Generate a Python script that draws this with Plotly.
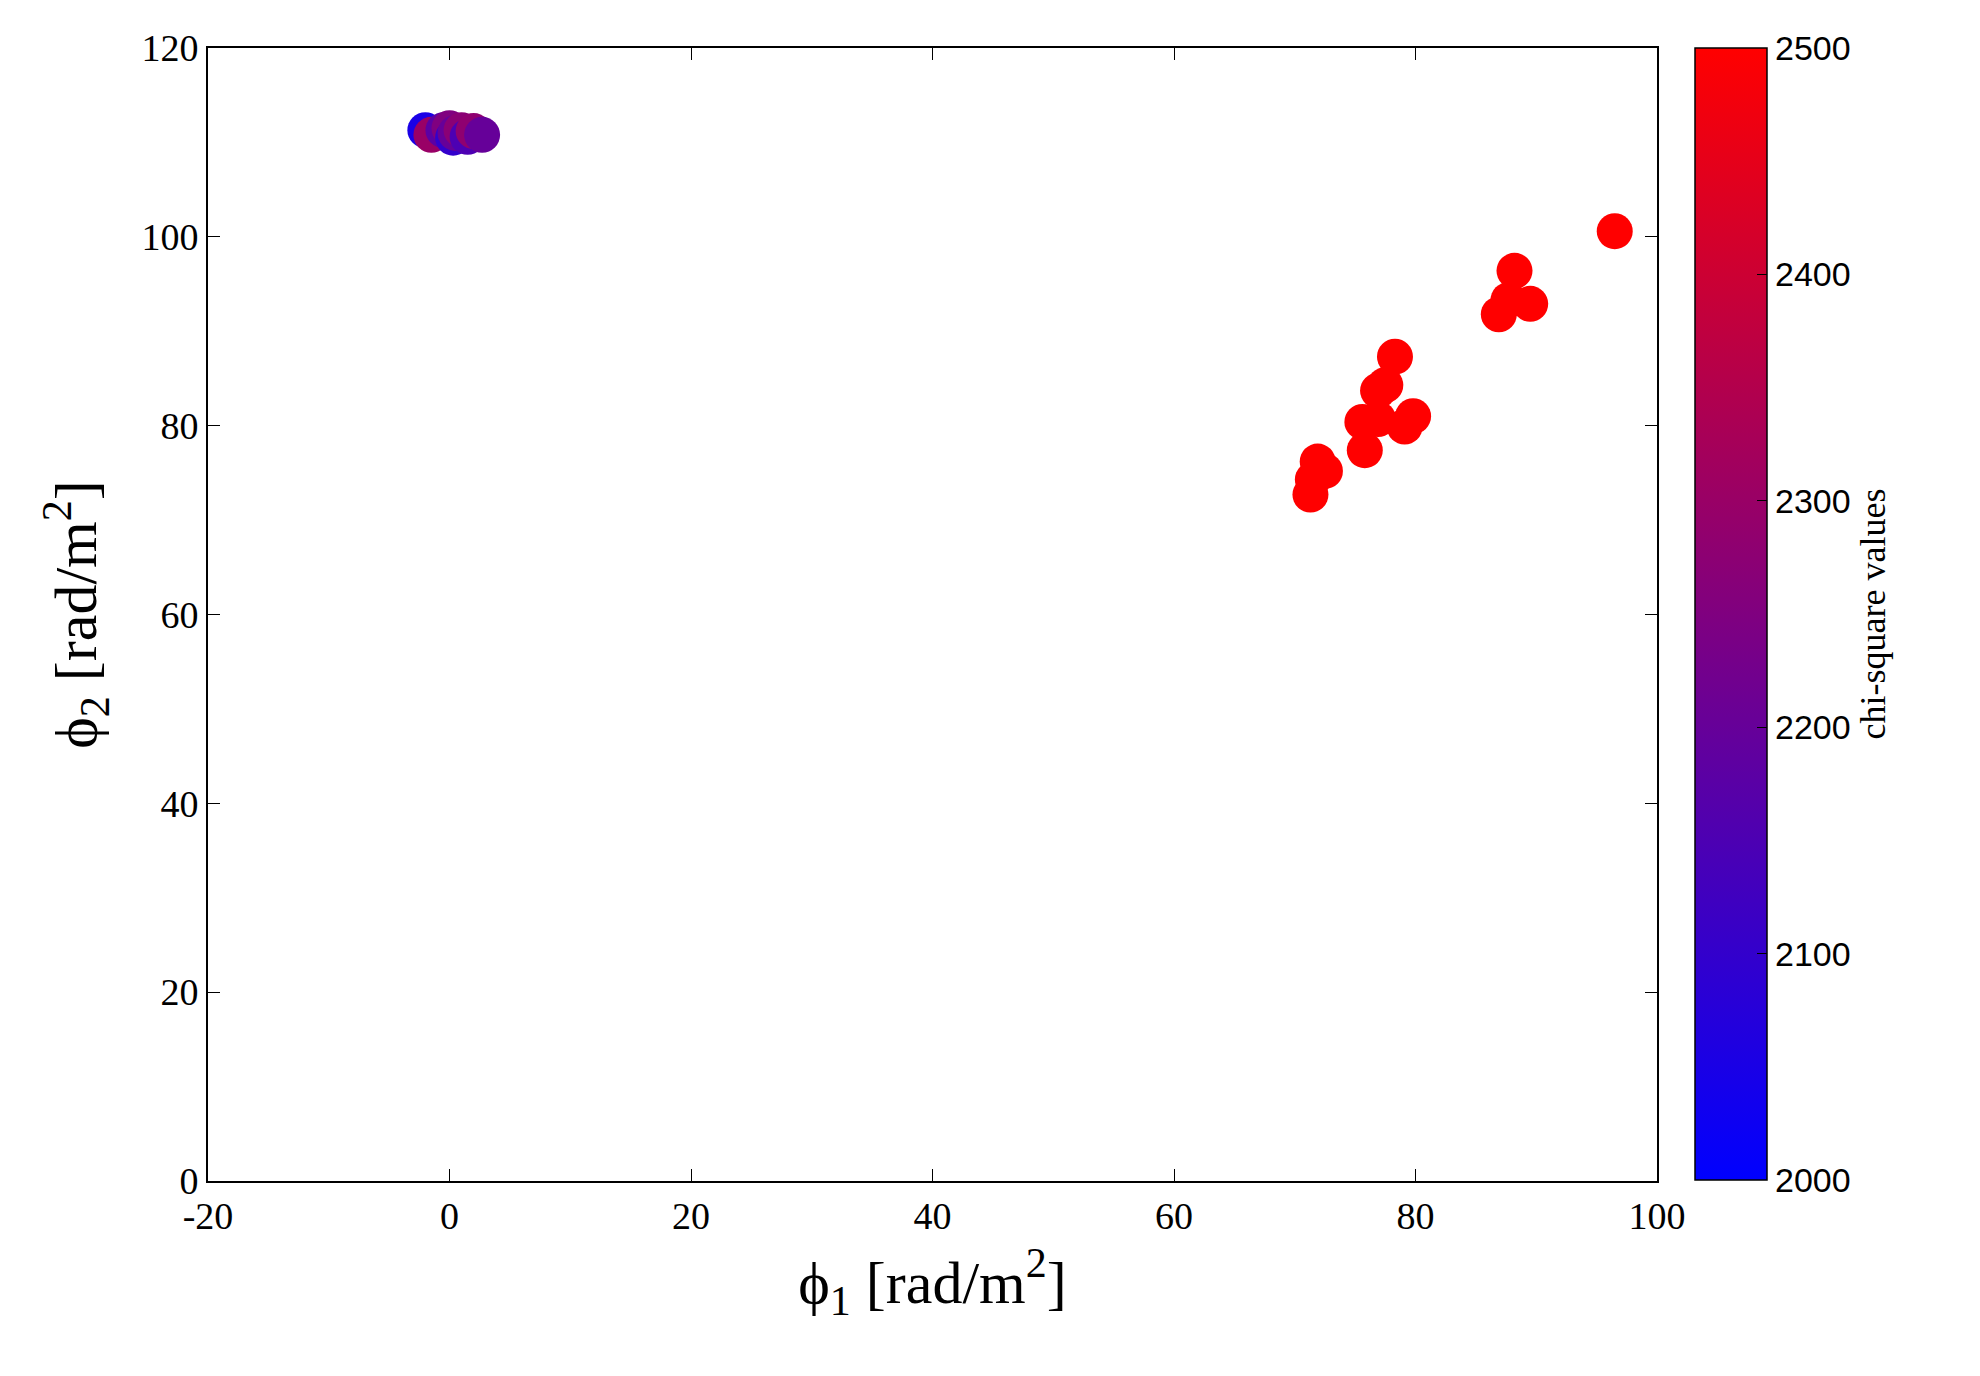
import plotly.graph_objects as go

phi1 = [96.5, 88.2, 89.5, 86.9, 87.7, 78.3, 77.5, 76.9, 75.6, 76.9, 79.8, 79.1, 75.8, 71.9, 72.5, 71.5, 71.3,
        -2.0, -1.5, -0.5, 0.0, 0.3, 0.5, 1.0, 1.5, 2.0, 2.7]
phi2 = [100.6, 96.4, 92.9, 91.8, 93.3, 87.3, 84.3, 83.7, 80.4, 80.7, 81.0, 79.9, 77.4, 76.2, 75.2, 74.3, 72.7,
        111.3, 110.8, 111.3, 111.5, 110.5, 111.0, 111.3, 110.6, 111.2, 110.8]
chi2 = [2500]*17 + [2050, 2300, 2180, 2250, 2100, 2200, 2270, 2150, 2280, 2200]
xticks = [-20, 0, 20, 40, 60, 80, 100]
xticklabels = ["-20", "0", "20", "40", "60", "80", "100"]

fig = go.Figure(go.Scatter(
    x=phi1, y=phi2, mode="markers",
    marker=dict(size=36, color=chi2, cmin=2000, cmax=2500,
                colorscale=[[0, "#0000ff"], [1, "#ff0000"]],
                line=dict(width=0),
                colorbar=dict(x=1.026, xanchor="left", y=1, yanchor="top", len=1132, lenmode="pixels",
                              ypad=0, xpad=0,
                              thickness=72, outlinecolor="black", outlinewidth=1.5,
                              tickvals=[2000, 2100, 2200, 2300, 2400, 2500],
                              tickprefix="\u00a0\u00a0\u00a0",
                              ticks="inside", ticklen=10, tickcolor="black",
                              tickfont=dict(family="Liberation Sans", size=34, color="black"),
                              title=dict(text="chi-square values", side="right",
                                         font=dict(family="Liberation Serif", size=36, color="black"))))))

axis_common = dict(showgrid=False, zeroline=False, mirror="ticks", showline=True, linecolor="black",
                   linewidth=2, ticks="inside", ticklen=12, tickcolor="black",
                   tickfont=dict(family="Liberation Serif", size=38, color="black"))
fig.update_xaxes(range=[-20, 100], tickvals=xticks, ticktext=xticklabels, **axis_common,
                 title=dict(text="ϕ<sub>1</sub> [rad/m<sup>2</sup>]",
                            font=dict(family="Liberation Serif", size=60, color="black"), standoff=25))
fig.update_yaxes(range=[0, 120], dtick=20, **axis_common,
                 title=dict(text="ϕ<sub>2</sub> [rad/m<sup>2</sup>]",
                            font=dict(family="Liberation Serif", size=60, color="black"), standoff=25))
fig.update_layout(width=1980, height=1376, plot_bgcolor="white", paper_bgcolor="white",
                  margin=dict(l=200, r=331, t=40, b=203), showlegend=False)
fig.write_html("out.html")
